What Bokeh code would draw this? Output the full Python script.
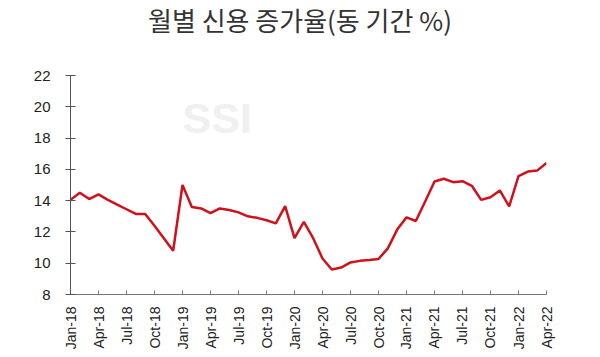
from bokeh.plotting import figure
from bokeh.models import FixedTicker, Range1d, Label, Div
from bokeh.layouts import column
from bokeh.embed import file_html
from bokeh.resources import INLINE

title_text = "월별 신용 증가율(동 기간 %)"
months = ["Jan-18", "Feb-18", "Mar-18", "Apr-18", "May-18", "Jun-18", "Jul-18", "Aug-18", "Sep-18", "Oct-18", "Nov-18", "Dec-18",
          "Jan-19", "Feb-19", "Mar-19", "Apr-19", "May-19", "Jun-19", "Jul-19", "Aug-19", "Sep-19", "Oct-19", "Nov-19", "Dec-19",
          "Jan-20", "Feb-20", "Mar-20", "Apr-20", "May-20", "Jun-20", "Jul-20", "Aug-20", "Sep-20", "Oct-20", "Nov-20", "Dec-20",
          "Jan-21", "Feb-21", "Mar-21", "Apr-21", "May-21", "Jun-21", "Jul-21", "Aug-21", "Sep-21", "Oct-21", "Nov-21", "Dec-21",
          "Jan-22", "Feb-22", "Mar-22", "Apr-22"]
growth = [14.05, 14.5, 14.1, 14.4, 14.05, 13.75, 13.45, 13.15, 13.15, 12.4, 11.6, 10.8,
          15.0, 13.6, 13.5, 13.2, 13.5, 13.4, 13.25, 13.0, 12.9, 12.75, 12.55, 13.65,
          11.6, 12.65, 11.6, 10.3, 9.6, 9.72, 10.05, 10.15, 10.2, 10.27, 10.95, 12.15,
          12.93, 12.7, 13.95, 15.22, 15.4, 15.18, 15.24, 14.95, 14.05, 14.22, 14.65, 13.63,
          15.56, 15.86, 15.92, 16.41]
y_ticks = [8, 10, 12, 14, 16, 18, 20, 22]
watermark = "SSI"

x = list(range(len(months)))
tick_idx = list(range(0, len(months), 3))

title_h = 45
title = Div(text=title_text, width=600, height=title_h, margin=0,
            styles={"font-family": "'Noto Sans CJK KR'", "font-size": "26px", "color": "#333333",
                    "text-align": "center", "line-height": "26px", "padding-top": "7px",
                    "box-sizing": "border-box"})

p = figure(width=600, height=357 - title_h, output_backend="svg", toolbar_location=None,
           x_range=Range1d(0, len(months) - 1), y_range=Range1d(8, 22),
           min_border_left=70, min_border_right=54, min_border_top=75 - title_h, min_border_bottom=63)
p.margin = 0
p.outline_line_color = None
p.background_fill_color = "white"
p.border_fill_color = "white"
p.xgrid.grid_line_color = None
p.ygrid.grid_line_color = None

# watermark
p.add_layout(Label(x=12, y=17.75, text=watermark, text_font="Liberation Sans",
                   text_font_size="43px", text_font_style="bold", text_color="#f0f0f0"))

p.line(x, growth, line_color="#d0101a", line_width=2.5)

lab_font = "Liberation Sans"
p.yaxis.ticker = FixedTicker(ticks=y_ticks)
p.yaxis.axis_line_color = "#555555"
p.yaxis.major_tick_line_color = "#555555"
p.yaxis.major_tick_in = 5
p.yaxis.major_tick_out = 5
p.yaxis.minor_tick_line_color = None
p.yaxis.major_label_standoff = 15
p.yaxis.major_label_text_font = lab_font
p.yaxis.major_label_text_font_size = "15px"
p.yaxis.major_label_text_color = "#222222"

p.xaxis.ticker = FixedTicker(ticks=tick_idx)
p.xaxis.major_label_overrides = {i: months[i] for i in tick_idx}
p.xaxis.major_label_orientation = 1.5707963
p.xaxis.axis_line_color = "#777777"
p.xaxis.major_tick_line_color = "#777777"
p.xaxis.major_tick_in = 4
p.xaxis.major_tick_out = 0
p.xaxis.minor_tick_line_color = None
p.xaxis.major_label_standoff = 12
p.xaxis.major_label_text_font = lab_font
p.xaxis.major_label_text_font_size = "14px"
p.xaxis.major_label_text_color = "#222222"

layout = column(title, p, spacing=0, margin=0)
open("out.html", "w").write(file_html(layout, INLINE))
